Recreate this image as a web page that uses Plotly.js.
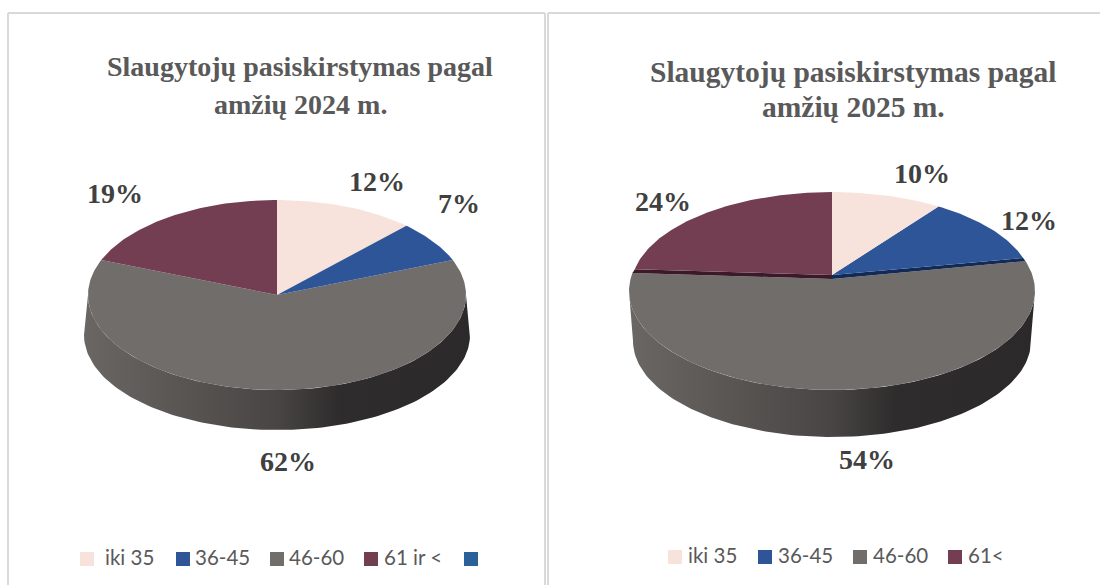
<!DOCTYPE html>
<html><head><meta charset="utf-8">
<script src="https://cdn.plot.ly/plotly-3.0.1.min.js"></script>
<style>html,body{margin:0;padding:0;background:#fff}#c{width:1100px;height:585px}</style>
</head><body><div id="c"></div>
<script>
// ---- data ----
const categories2024 = ["iki 35", "36-45", "46-60", "61 ir <", ""];
const categories2025 = ["iki 35", "36-45", "46-60", "61<"];
const values2024 = [12, 7, 62, 19];
const values2025 = [10, 12, 54, 24];
const title2024 = ["Slaugytojų pasiskirstymas pagal", "amžių 2024 m."];
const title2025 = ["Slaugytojų pasiskirstymas pagal", "amžių 2025 m."];
// ---- styling ----
const sliceColors = ["#f7e3db", "#2e5597", "#716d6b", "#733e52", "#2a6199"];
const cutColors = [null, "#132a55", null, "#3a1a28"];
const wallStops = [[0,"#6a6664"],[0.3,"#565250"],[0.5,"#484544"],[0.66,"#2e2c2c"],[1,"#2b2929"]];
const textGrey = "#595959", labelGrey = "#404040";
const serif = "'Liberation Serif', serif", sans = "Lato, sans-serif";

const traces = [];
const TAU = Math.PI * 2;
// A tilted pie: a circle seen under a slight perspective.
function project(g, frac) {
  const t = frac * TAU, u = Math.sin(t), v = Math.cos(t), w = 1 + g.p * v;
  return [g.cx + g.rx * u / w, g.ay - g.ry * v / w];
}
function drawPie(g, values, categories, label, legend) {
  const total = values.reduce((a, b) => a + b, 0);
  // side wall
  const wx = [], wy = [];
  for (let i = 0; i <= 120; i++) { // upper rim, left to right along the front
    const a = Math.PI * (1 - i / 120);
    wx.push(g.cx + g.wallTopRx * Math.cos(a)); wy.push(g.wallTopY + g.wallTopRy * Math.sin(a));
  }
  for (let i = 0; i <= 120; i++) { // lower rim, right to left
    const a = Math.PI * i / 120;
    wx.push(g.cx + g.wallRx * Math.cos(a)); wy.push(g.wallY + g.wallRy * Math.sin(a));
  }
  traces.push({type:"scatter", mode:"lines", x:wx, y:wy, fill:"toself",
    line:{width:0}, hoverinfo:"skip", showlegend:false,
    fillgradient:{type:"horizontal", colorscale:wallStops, start:g.cx-g.wallRx, stop:g.cx+g.wallRx}});
  // slices: the big front one first so the rear slices sit over it
  let cum = 0;
  const arcs = values.map(v => { const s = cum / total; cum += v; return [s, cum / total]; });
  const order = values.map((_, i) => i).sort((a, b) => values[b] - values[a]);
  const rear = g.rear || g;
  order.forEach((i, rank) => {
    const geo = rank === 0 ? g : rear;
    const [s, e] = arcs[i], xs = [geo.cx], ys = [geo.ay], n = Math.ceil((e - s) * 360);
    for (let k = 0; k <= n; k++) { const pt = project(geo, s + (e - s) * k / n); xs.push(pt[0]); ys.push(pt[1]); }
    xs.push(geo.cx); ys.push(geo.ay);
    traces.push({type:"scatter", mode:"lines", x:xs, y:ys, fill:"toself",
      fillcolor:sliceColors[i], line:{width:0}, name:categories[i], showlegend:false, hoverinfo:"name"});
    // dark cut face showing between a lifted slice and the front slice
    if (g.rear && rank > 0 && cutColors[i]) {
      const f = i === 1 ? e : s, a = project(geo, f), b = project(g, f);
      traces.splice(traces.length - 1, 0, {type:"scatter", mode:"lines",
        x:[geo.cx, a[0], b[0], g.cx, geo.cx], y:[geo.ay, a[1], b[1], g.ay, geo.ay], fill:"toself",
        fillcolor:cutColors[i], line:{width:0}, hoverinfo:"skip", showlegend:false});
    }
  });
  // data labels
  values.forEach((v, i) => traces.push({type:"scatter", mode:"text", x:[label[i][0]], y:[label[i][1]],
    text:[v + "%"], textposition:"middle center", textfont:{family:serif, size:28, color:labelGrey, weight:700},
    hoverinfo:"skip", showlegend:false}));
  // legend row
  categories.forEach((c, i) => {
    traces.push({type:"scatter", mode:"markers", x:[legend.sw[i]], y:[legend.y],
      marker:{symbol:"square", size:14, color:sliceColors[i], line:{width:0}}, name:c||"-", hoverinfo:"skip", showlegend:false});
    if (c) traces.push({type:"scatter", mode:"text", x:[legend.tx[i]], y:[legend.y + 1],
      text:[c], textposition:"middle right", textfont:{family:sans, size:20.5, color:textGrey}, hoverinfo:"skip", showlegend:false});
  });
}

drawPie({cx:277, ay:295, rx:189, ry:95, p:0,
  wallTopY:295, wallTopRx:189, wallTopRy:95, wallY:335, wallRx:193, wallRy:95},
  values2024, categories2024,
  [[377,184],[459,206],[288,464],[115,196]],
  {y:559, sw:[87,183,277,371,471], tx:[105,195,289,384]});
drawPie({cx:832, ay:279, rx:201.5, ry:97.5, p:0.121,
  rear:{cx:832, ay:275, rx:199, ry:93, p:0.121},
  wallTopY:291, wallTopRx:203, wallTopRy:99, wallY:341, wallRx:199, wallRy:96},
  values2025, categories2025,
  [[922,176],[1029,223],[867,462],[663,204]],
  {y:557, sw:[675,765,860,955], tx:[688,778,873,968]});

const hidden = {visible:false, fixedrange:true};
const line = (x0,y0,x1,y1) => ({type:"line", xref:"x", yref:"y", x0,y0,x1,y1, line:{color:"#d9d9d9", width:2}, layer:"below"});
const titleLine = (text, x, y, size) => ({xref:"x", yref:"y", x, y, text, showarrow:false, align:"center",
  font:{family:serif, size, color:textGrey, weight:700}});
const layout = {
  width:1100, height:585, margin:{l:0,r:0,t:0,b:0}, paper_bgcolor:"#fff", plot_bgcolor:"#fff", showlegend:false,
  xaxis:{...hidden, range:[0,1100]}, yaxis:{...hidden, range:[585,0]},
  shapes:[line(8,13,545,13), line(8,13,8,585), line(545,13,545,585), line(548,13,1100,13), line(548,13,548,585)],
  annotations:[
    titleLine(title2024[0], 300, 66, 28), titleLine(title2024[1], 300, 104, 28),
    titleLine(title2025[0], 853, 72, 29.5), titleLine(title2025[1], 853, 107, 29.5)
  ]
};
Plotly.newPlot("c", traces, layout, {displayModeBar:false, staticPlot:true});
</script></body></html>
